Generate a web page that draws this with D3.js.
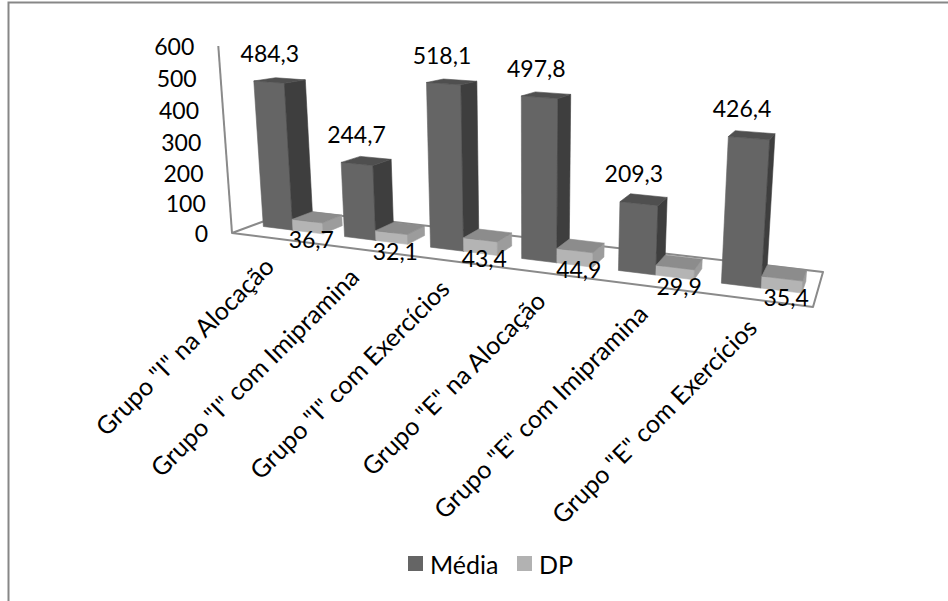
<!DOCTYPE html>
<html>
<head>
<meta charset="utf-8">
<script src="https://cdn.jsdelivr.net/npm/d3@7/dist/d3.min.js"></script>
<style>
  body { margin: 0; background: #fff; }
  text { font-family: Lato, "Open Sans", sans-serif; fill: #000; }
</style>
</head>
<body>
<svg id="chart" width="948" height="601"></svg>
<script>
// ---- data ----
const categories = [
  'Grupo "I" na Alocação',
  'Grupo "I" com Imipramina',
  'Grupo "I" com Exercícios',
  'Grupo "E" na Alocação',
  'Grupo "E" com Imipramina',
  'Grupo "E" com Exercícios'
];
const seriesNames = ["Média", "DP"];
const mediaValues = [484.3, 244.7, 518.1, 497.8, 209.3, 426.4];
const dpValues = [36.7, 32.1, 43.4, 44.9, 29.9, 35.4];
const valueTicks = [0, 100, 200, 300, 400, 500, 600];

// ---- perspective view of the plot box ----
const view = {
  frontLeft: [232, 233],     // floor corner under the value axis
  frontRight: [813, 307],
  backRight: [823, 272],
  nearFar: 0.83,             // perspective divisor at the front-right corner (front-left = 1)
  horizonY: -15,             // height of the vanishing point of the depth edges
  verticalVanish: [530, 4300],
  axisTop: [218, 46]         // screen point of the axis maximum
};
const barDepth = [0.32, 0.66];   // share of the floor depth taken by the columns

const colors = {
  "Média": { front: "#656565", side: "#3e3e3e", top: "#4f4f4f" },
  "DP":    { front: "#b4b4b4", side: "#9c9c9c", top: "#8c8c8c" }
};

const fmt = d3.formatLocale({ decimal: ",", thousands: ".", grouping: [3], currency: ["", ""] }).format(".1f");

// 3x4 projective camera assembled from vanishing points
const cam = (() => {
  const { frontLeft: FL, frontRight: FR, backRight: BR, nearFar: wR, horizonY, verticalVanish: VV, axisTop: AT } = view;
  const pO = [FL[0], FL[1], 1];
  const pU = [FR[0] * wR - FL[0], FR[1] * wR - FL[1], wR - 1];
  const vzx = FR[0] + (BR[0] - FR[0]) * (horizonY - FR[1]) / (BR[1] - FR[1]);
  const sZ = wR * (BR[1] - FR[1]) / (horizonY - BR[1]);
  const pV = [sZ * vzx, sZ * horizonY, sZ];
  const kT = (AT[1] - FL[1]) / (VV[1] - AT[1]);
  const pT = [kT * VV[0], kT * VV[1], kT];
  return { pO, pU, pV, pT };
})();

// u: along categories (0..1), t: height (0..1), v: depth (0 front .. 1 back)
function project(u, t, v) {
  const h = [0, 1, 2].map(i => cam.pO[i] + u * cam.pU[i] + t * cam.pT[i] + v * cam.pV[i]);
  return [h[0] / h[2], h[1] / h[2]];
}

// ---- scales ----
const x = d3.scaleBand().domain(categories).range([0, 1]).paddingInner(0.26).paddingOuter(0.13);
const xs = d3.scaleBand().domain(seriesNames).range([0, x.bandwidth()]);
const y = d3.scaleLinear().domain([0, 600]).range([0, 1]);

const svg = d3.select("#chart");

// outer chart frame
svg.append("path")
  .attr("d", "M8.5,601 L8.5,2.5 L948,2.5")
  .attr("fill", "none").attr("stroke", "#878787").attr("stroke-width", 2);

// floor
svg.append("polygon")
  .attr("points", [[0, 0], [1, 0], [1, 1], [0, 1]].map(([u, v]) => project(u, 0, v).join(",")).join(" "))
  .attr("fill", "#fff").attr("stroke", "#8a8a8a").attr("stroke-width", 2).attr("stroke-linejoin", "round");

// value axis line and tick labels
const axisG = svg.append("g");
axisG.append("line")
  .attr("x1", project(0, 0, 0)[0]).attr("y1", project(0, 0, 0)[1])
  .attr("x2", project(0, 1, 0)[0]).attr("y2", project(0, 1, 0)[1])
  .attr("stroke", "#8a8a8a").attr("stroke-width", 2);
axisG.selectAll("text.tick").data(valueTicks).join("text")
  .attr("class", "tick")
  .attr("x", d => project(0, y(d), 0)[0] - 24)
  .attr("y", d => project(0, y(d), 0)[1])
  .attr("text-anchor", "end").attr("dominant-baseline", "central")
  .attr("font-size", 23)
  .text(d => d);

// ---- columns ----
const bars = [];
categories.forEach((c, i) => {
  [["Média", mediaValues[i]], ["DP", dpValues[i]]].forEach(([s, val]) => {
    bars.push({ cat: c, series: s, value: val, u0: x(c) + xs(s), u1: x(c) + xs(s) + xs.bandwidth() });
  });
});

// faces listed counter-clockwise as seen from outside; keep the ones facing the viewer
function faces(b) {
  const t = y(b.value), [v0, v1] = barDepth, u0 = b.u0, u1 = b.u1;
  return [
    { kind: "front", pts: [[u0, 0, v0], [u1, 0, v0], [u1, t, v0], [u0, t, v0]] },
    { kind: "side",  pts: [[u1, 0, v0], [u1, 0, v1], [u1, t, v1], [u1, t, v0]] },
    { kind: "side",  pts: [[u0, 0, v1], [u0, 0, v0], [u0, t, v0], [u0, t, v1]] },
    { kind: "top",   pts: [[u0, t, v0], [u1, t, v0], [u1, t, v1], [u0, t, v1]] },
    { kind: "side",  pts: [[u1, 0, v1], [u0, 0, v1], [u0, t, v1], [u1, t, v1]] }
  ].map(f => ({ ...f, scr: f.pts.map(([u, tt, v]) => project(u, tt, v)) }))
   .filter(f => d3.polygonArea(f.scr) > 0);
}

const barG = svg.append("g");
bars.forEach(b => {
  const g = barG.append("g");
  faces(b).forEach(f => {
    g.append("polygon")
      .attr("points", f.scr.map(p => p.join(",")).join(" "))
      .attr("fill", colors[b.series][f.kind])
      .attr("stroke", colors[b.series][f.kind]).attr("stroke-width", 0.6)
      .attr("stroke-linejoin", "round");
  });
});

// ---- value labels ----
function labelPos(b) {
  const uc = (b.u0 + b.u1) / 2, t = y(b.value);
  if (b.series === "Média") {
    const p = project(uc, t, (barDepth[0] + barDepth[1]) / 2);
    return [p[0] - 10, p[1] - 27];
  }
  const p = project(uc, t, barDepth[0]);
  return [p[0] + 4, p[1] + 18];
}
svg.append("g").selectAll("text").data(bars).join("text")
  .attr("x", b => labelPos(b)[0])
  .attr("y", b => labelPos(b)[1])
  .attr("text-anchor", "middle").attr("dominant-baseline", "central")
  .attr("font-size", 23)
  .text(b => fmt(b.value));

// ---- category labels ----
svg.append("g").selectAll("text").data(categories).join("text")
  .attr("transform", c => {
    const p = project(x(c) + x.bandwidth() / 2, 0, 0);
    return `translate(${p[0] + 3},${p[1] + 30}) rotate(-45)`;
  })
  .attr("text-anchor", "end")
  .attr("font-size", 25)
  .text(c => c);

// ---- legend ----
const legend = svg.append("g");
const legendItems = [
  { name: "Média", x: 408, color: colors["Média"].front },
  { name: "DP", x: 517, color: "#b2b2b2" }
];
legendItems.forEach(d => {
  legend.append("rect").attr("x", d.x).attr("y", 556).attr("width", 15).attr("height", 15).attr("fill", d.color);
  legend.append("text").attr("x", d.x + 22).attr("y", 564)
    .attr("dominant-baseline", "central").attr("font-size", 25).text(d.name);
});
</script>
</body>
</html>
